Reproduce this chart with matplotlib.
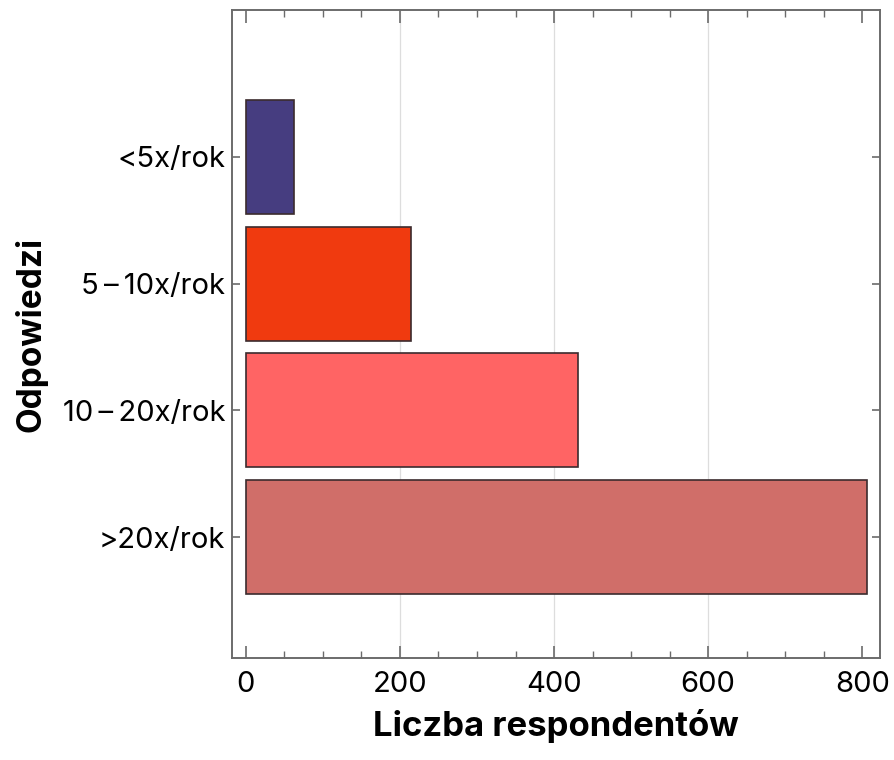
import matplotlib
matplotlib.use("Agg")
import matplotlib.pyplot as plt
import numpy as np
from matplotlib.ticker import MultipleLocator

# data
categories = ["<5x/rok", "5\u2009–\u200910x/rok", "10\u2009–\u200920x/rok", ">20x/rok"]
counts = [62, 214, 431, 806]
bar_colors = ["#463d80", "#f03a0f", "#ff6464", "#d06e69"]

plt.rcParams["font.family"] = ["Inter", "DejaVu Sans"]

fig = plt.figure(figsize=(8.94, 7.6), dpi=100)
ax = fig.add_axes([232 / 894, 102 / 760, 648 / 894, 648 / 760])

pos = np.arange(len(categories))
ax.barh(pos, counts, height=0.9, color=bar_colors,
        edgecolor="#3b2b2e", linewidth=1.2, zorder=3)

ax.set_xlim(-18, 823)
ax.set_ylim(3.955, -1.16)
ax.set_yticks(pos)
ax.set_yticklabels(categories)

ax.xaxis.set_major_locator(MultipleLocator(200))
ax.xaxis.set_minor_locator(MultipleLocator(50))

# light vertical grid only at the inner major ticks
for v in (200, 400, 600):
    ax.axvline(v, color="#dddddd", linewidth=0.9, zorder=1)

for s in ax.spines.values():
    s.set_color("#6b6b6b")
    s.set_linewidth(1.4)

ax.tick_params(axis="x", which="major", direction="in", length=9, width=1.2,
               color="#6b6b6b", top=True, bottom=True, labelsize=21, pad=9)
ax.tick_params(axis="x", which="minor", direction="in", length=5, width=1.0,
               color="#6b6b6b", top=True, bottom=True)
ax.tick_params(axis="y", which="major", direction="in", length=6, width=1.2,
               color="#6b6b6b", left=True, right=True, labelsize=21, pad=5)

ax.set_xlabel("Liczba respondentów", fontsize=25, fontweight="bold", labelpad=8)
ax.set_ylabel("Odpowiedzi", fontsize=24, fontweight="bold")
ax.yaxis.set_label_coords(-0.284, 0.5)

fig.savefig("out.png", dpi=100)
